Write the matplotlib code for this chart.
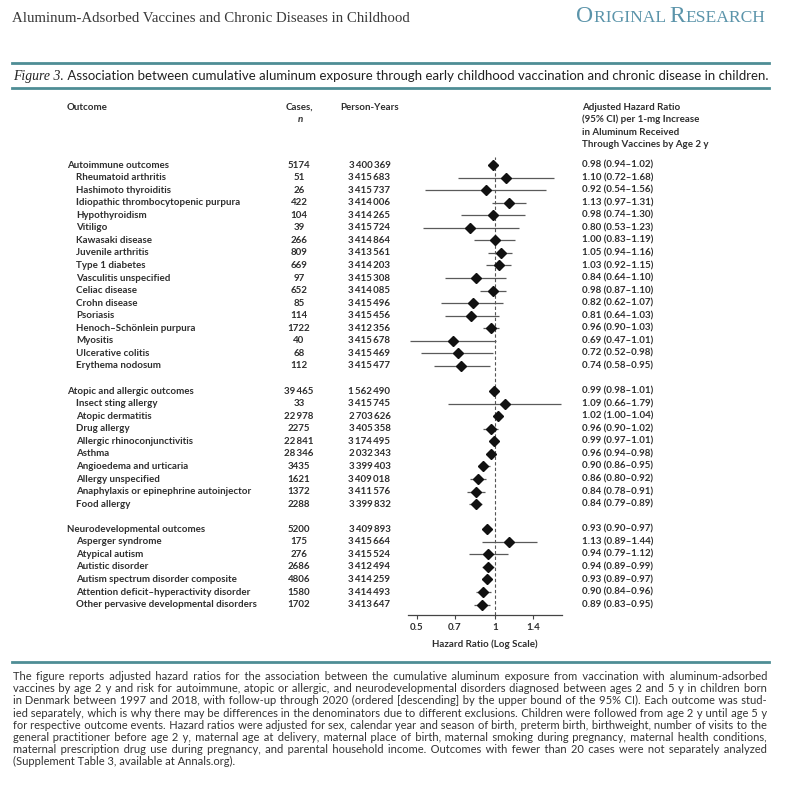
import matplotlib
matplotlib.use("Agg")
import matplotlib.pyplot as plt
import matplotlib.transforms as mtransforms
from matplotlib.lines import Line2D

W, H = 789, 800

# ---- data ----
group_names = ["Autoimmune outcomes", "Atopic and allergic outcomes", "Neurodevelopmental outcomes"]

auto_names = ["Rheumatoid arthritis", "Hashimoto thyroiditis", "Idiopathic thrombocytopenic purpura",
              "Hypothyroidism", "Vitiligo", "Kawasaki disease", "Juvenile arthritis", "Type 1 diabetes",
              "Vasculitis unspecified", "Celiac disease", "Crohn disease", "Psoriasis",
              "Henoch\u2013Sch\u00f6nlein purpura", "Myositis", "Ulcerative colitis", "Erythema nodosum"]
auto_cases = [5174, 51, 26, 422, 104, 39, 266, 809, 669, 97, 652, 85, 114, 1722, 40, 68, 112]
auto_py = [3400369, 3415683, 3415737, 3414006, 3414265, 3415724, 3414864, 3413561, 3414203,
           3415308, 3414085, 3415496, 3415456, 3412356, 3415678, 3415469, 3415477]
auto_hr = [0.98, 1.10, 0.92, 1.13, 0.98, 0.80, 1.00, 1.05, 1.03, 0.84, 0.98, 0.82, 0.81, 0.96, 0.69, 0.72, 0.74]
auto_lo = [0.94, 0.72, 0.54, 0.97, 0.74, 0.53, 0.83, 0.94, 0.92, 0.64, 0.87, 0.62, 0.64, 0.90, 0.47, 0.52, 0.58]
auto_hi = [1.02, 1.68, 1.56, 1.31, 1.30, 1.23, 1.19, 1.16, 1.15, 1.10, 1.10, 1.07, 1.03, 1.03, 1.01, 0.98, 0.95]

atop_names = ["Insect sting allergy", "Atopic dermatitis", "Drug allergy", "Allergic rhinoconjunctivitis",
              "Asthma", "Angioedema and urticaria", "Allergy unspecified",
              "Anaphylaxis or epinephrine autoinjector", "Food allergy"]
atop_cases = [39465, 33, 22978, 2275, 22841, 28346, 3435, 1621, 1372, 2288]
atop_py = [1562490, 3415745, 2703626, 3405358, 3174495, 2032343, 3399403, 3409018, 3411576, 3399832]
atop_hr = [0.99, 1.09, 1.02, 0.96, 0.99, 0.96, 0.90, 0.86, 0.84, 0.84]
atop_lo = [0.98, 0.66, 1.00, 0.90, 0.97, 0.94, 0.86, 0.80, 0.78, 0.79]
atop_hi = [1.01, 1.79, 1.04, 1.02, 1.01, 0.98, 0.95, 0.92, 0.91, 0.89]

neuro_names = ["Asperger syndrome", "Atypical autism", "Autistic disorder",
               "Autism spectrum disorder composite", "Attention deficit\u2013hyperactivity disorder",
               "Other pervasive developmental disorders"]
neuro_cases = [5200, 175, 276, 2686, 4806, 1580, 1702]
neuro_py = [3409893, 3415664, 3415524, 3412494, 3414259, 3414493, 3413647]
neuro_hr = [0.93, 1.13, 0.94, 0.94, 0.93, 0.90, 0.89]
neuro_lo = [0.90, 0.89, 0.79, 0.89, 0.89, 0.84, 0.83]
neuro_hi = [0.97, 1.44, 1.12, 0.99, 0.97, 0.96, 0.95]

xticks = [0.5, 0.7, 1, 1.4]
xtick_labels = ["0.5", "0.7", "1", "1.4"]

caption_lines = [
    "The figure reports adjusted hazard ratios for the association between the cumulative aluminum exposure from vaccination with aluminum-adsorbed",
    "vaccines by age 2 y and risk for autoimmune, atopic or allergic, and neurodevelopmental disorders diagnosed between ages 2 and 5 y in children born",
    "in Denmark between 1997 and 2018, with follow-up through 2020 (ordered [descending] by the upper bound of the 95% CI). Each outcome was stud-",
    "ied separately, which is why there may be differences in the denominators due to different exclusions. Children were followed from age 2 y until age 5 y",
    "for respective outcome events. Hazard ratios were adjusted for sex, calendar year and season of birth, preterm birth, birthweight, number of visits to the",
    "general practitioner before age 2 y, maternal age at delivery, maternal place of birth, maternal smoking during pregnancy, maternal health conditions,",
    "maternal prescription drug use during pregnancy, and parental household income. Outcomes with fewer than 20 cases were not separately analyzed",
    "(Supplement Table 3, available at Annals.org).",
]

# ---- build rows ----
rows = []  # (label, is_header, cases, py, hr, lo, hi) or None for gap
for gname, names, cases, py, hr, lo, hi in [
        (group_names[0], auto_names, auto_cases, auto_py, auto_hr, auto_lo, auto_hi),
        (group_names[1], atop_names, atop_cases, atop_py, atop_hr, atop_lo, atop_hi),
        (group_names[2], neuro_names, neuro_cases, neuro_py, neuro_hr, neuro_lo, neuro_hi)]:
    labels = [gname] + names
    for k in range(len(labels)):
        rows.append((labels[k], k == 0, cases[k], py[k], hr[k], lo[k], hi[k]))
    rows.append(None)
rows = rows[:-1]


def thin(n, minimum=10000):
    if n < minimum:
        return str(n)
    return f"{n:,}".replace(",", "\u2009")


def fx(x):
    return x / W


def fy(y):
    return 1 - y / H


TXT = "#2e2e2e"
TEAL = "#4e8d95"
TEAL_TXT = "#5b94aa"
FONT = ["Lato", "DejaVu Sans"]

fig = plt.figure(figsize=(W / 100, H / 100), dpi=100)
fig.patch.set_facecolor("white")
renderer = fig.canvas.get_renderer()


def text_width(s, **kw):
    t = fig.text(0, 0, s, **kw)
    w = t.get_window_extent(renderer).width
    t.remove()
    return w


def seq_text(x, y, pieces, **common):
    # place text pieces one after another (pixel x, pixel y)
    for s, kw in pieces:
        t = fig.text(fx(x), fy(y), s, va="baseline", ha="left", **common, **kw)
        x += t.get_window_extent(renderer).width
    return x


# ---- page header ----
fig.text(fx(12), fy(22), "Aluminum-Adsorbed Vaccines and Chronic Diseases in Childhood",
         family="Liberation Serif", fontsize=10.7, color="#3a3a3a", va="baseline")
sc = [("O", dict(fontsize=17)), ("RIGINAL ", dict(fontsize=12.6)),
      ("R", dict(fontsize=17)), ("ESEARCH", dict(fontsize=12.6))]
sc_w = sum(text_width(s, family="Liberation Serif", **kw) for s, kw in sc)
seq_text(765 - sc_w, 22, sc, family="Liberation Serif", color=TEAL_TXT)

for yy in (63.3, 88.3, 662):
    fig.add_artist(Line2D([fx(12), fx(769)], [fy(yy), fy(yy)], color=TEAL, lw=2.0))

seq_text(13, 80, [("Figure 3.", dict(family="Liberation Serif", style="italic", fontsize=9.9)),
                  (" Association between cumulative aluminum exposure through early childhood vaccination and chronic disease in children.",
                   dict(family="Lato", fontsize=9.55))], color="#222222")

# ---- forest axes ----
row_px0, row_step = 165.0, 12.56
ax_top, ax_bot, ax_l, ax_r = 157, 615, 408, 562
ax = fig.add_axes([fx(ax_l), fy(ax_bot), (ax_r - ax_l) / W, (ax_bot - ax_top) / H])
ax.set_xscale("log")
ax.set_xlim(0.463, 1.80)
ax.set_ylim((ax_bot - row_px0) / row_step, (ax_top - row_px0) / row_step)

ys = [i for i, r in enumerate(rows) if r is not None]
hrs = [rows[i][4] for i in ys]
los = [rows[i][5] for i in ys]
his = [rows[i][6] for i in ys]
ax.axvline(1, color="#555555", lw=0.8, ls=(0, (3, 2)), zorder=1)
ax.hlines(ys, los, his, color="#5a5a5a", lw=0.9, zorder=2)
ax.plot(hrs, ys, "D", color="#111111", ms=5.2, zorder=3)

for s in ("top", "left", "right"):
    ax.spines[s].set_visible(False)
ax.spines["bottom"].set_color("#444444")
ax.spines["bottom"].set_linewidth(0.9)
ax.set_yticks([])
ax.set_xticks(xticks)
ax.set_xticklabels(xtick_labels)
ax.xaxis.set_minor_locator(matplotlib.ticker.NullLocator())
ax.tick_params(axis="x", direction="out", length=3, width=0.8, color="#444444", pad=3)
for lab in ax.get_xticklabels():
    lab.set_fontfamily(FONT)
    lab.set_fontsize(7)
    lab.set_fontweight("bold")
    lab.set_color(TXT)
ax.set_xlabel("Hazard Ratio (Log Scale)", family=FONT, fontsize=7, fontweight="bold", color=TXT, labelpad=5)

# ---- table text ----
tr = mtransforms.blended_transform_factory(fig.transFigure, ax.transData)
tk = dict(family=FONT, fontsize=7, fontweight="bold", color=TXT, va="center", transform=tr)
for i, r in enumerate(rows):
    if r is None:
        continue
    label, is_head, cases, py, hr, lo, hi = r
    fig.text(fx(67 if is_head else 76), i, label, ha="left", **tk)
    fig.text(fx(299), i, thin(cases), ha="center", **tk)
    fig.text(fx(369.5), i, thin(py, 0), ha="center", **tk)
    fig.text(fx(582), i, f"{hr:.2f} ({lo:.2f}\u2013{hi:.2f})", ha="left", **tk)

hk = dict(family=FONT, fontsize=7, fontweight="bold", color=TXT, va="center")
fig.text(fx(67), fy(107), "Outcome", ha="left", **hk)
fig.text(fx(299), fy(107), "Cases,", ha="center", **hk)
fig.text(fx(300), fy(120), "n", ha="center", style="italic", **hk)
fig.text(fx(340), fy(107), "Person-Years", ha="left", **hk)
for k, s in enumerate(["Adjusted Hazard Ratio", "(95% CI) per 1-mg Increase",
                       "in Aluminum Received", "Through Vaccines by Age 2 y"]):
    fig.text(fx(582), fy(107 + k * 12.6), s, ha="left", **hk)

# ---- footnote, justified by spreading hair spaces over the gaps ----
cap_kw = dict(family=FONT, fontsize=8.0, color="#333333")
left, right = 13, 767
HAIR = "\u200a"
hw = (text_width("a" + HAIR * 20 + "a", **cap_kw) - text_width("aa", **cap_kw)) / 20
for k, line in enumerate(caption_lines):
    y = 680 + k * 12.2
    if k < len(caption_lines) - 1 and hw > 0.2:
        words = line.split(" ")
        gaps = len(words) - 1
        extra = max(0, round((right - left - text_width(line, **cap_kw)) / hw))
        out = words[0]
        for g in range(gaps):
            n = (g + 1) * extra // gaps - g * extra // gaps
            out += " " + HAIR * n + words[g + 1]
        line = out
    fig.text(fx(left), fy(y), line, ha="left", va="baseline", **cap_kw)

fig.savefig("out.png", dpi=100, facecolor="white")
